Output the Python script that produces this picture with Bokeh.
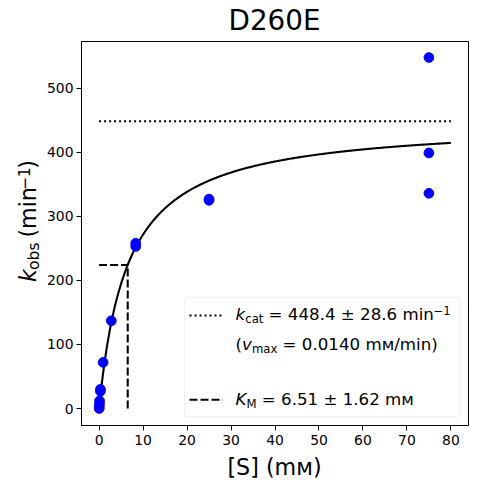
import numpy as np
from bokeh.plotting import figure
from bokeh.layouts import column, row
from bokeh.models import Range1d, FixedTicker, Label, BoxAnnotation, Arrow
from bokeh.embed import file_html
from bokeh.resources import INLINE

# ---------------- data ----------------
title_text = "D260E"
x_label_text = "[S] (m\u1d0d)"
substrate_mM = [75, 75, 75, 25, 25, 8.33, 8.33, 2.78, 0.926, 0.309, 0.309, 0.103, 0.103, 0.0343, 0.0343]
kobs = [548, 399, 336, 327, 325, 258, 253, 137, 72, 30, 27, 12, 8, 3, 0]
kcat = 448.4
kcat_err = 28.6
KM = 6.51
KM_err = 1.62
vmax = 0.0140
fit_x_max = 80
x_ticks = [0, 10, 20, 30, 40, 50, 60, 70, 80]
y_ticks = [0, 100, 200, 300, 400, 500]

# ---------------- layout (global px, top-left origin) ----------------
TOTAL_W = 469
XR = (-4, 84)
YR = (-26.5, 573)
FL, FR, FT, FB = 80, 468, 41, 425      # plot frame
YLAB_W = 43                             # left strip for the y label
XLAB_TOP = 451                          # top of the bottom strip for the x label
XLAB_H = 31
sx = (FR - FL) / (XR[1] - XR[0])
sy = (FB - FT) / (YR[1] - YR[0])
FONT = "DejaVu Sans"
MID = 0.346   # distance (em) from alphabetic baseline up to Bokeh's "middle" anchor


def px2x(px):
    return XR[0] + (px - FL) / sx


def py2y(py):
    return YR[0] + (FB - py) / sy


def text_strip(w, h):
    f = figure(width=w, height=h, x_range=Range1d(0, w), y_range=Range1d(h, 0),
               output_backend="svg", toolbar_location=None, title=None,
               x_axis_location=None, y_axis_location=None, min_border=0)
    f.grid.visible = False
    f.outline_line_color = None
    f.background_fill_color = "white"
    f.border_fill_color = "white"
    return f


def lab(fig, text, x, y, size, style="normal", align="left", angle=0.0):
    fig.add_layout(Label(x=x, y=y, text=text, text_font=FONT,
                         text_font_size=f"{size:.2f}px", text_font_style=style,
                         text_align=align, text_baseline="middle",
                         text_color="black", angle=angle))


# ---------------- main plot ----------------
main_w = TOTAL_W - YLAB_W
main_h = XLAB_TOP - FT
p = figure(width=main_w, height=main_h, x_range=Range1d(*XR), y_range=Range1d(*YR),
           output_backend="svg", toolbar_location=None, title=None,
           min_border_left=FL - YLAB_W, min_border_right=TOTAL_W - FR,
           min_border_top=0, min_border_bottom=XLAB_TOP - FB)
p.grid.visible = False
p.outline_line_color = "black"
p.outline_line_width = 1
p.background_fill_color = "white"
p.border_fill_color = "white"

p.xaxis.ticker = FixedTicker(ticks=x_ticks)
p.yaxis.ticker = FixedTicker(ticks=y_ticks)
for ax in (p.xaxis, p.yaxis):
    ax.minor_tick_line_color = None
    ax.major_tick_in = 0
    ax.major_tick_out = 5
    ax.major_tick_line_color = "black"
    ax.axis_line_color = "black"
    ax.major_label_text_color = "black"
    ax.major_label_text_font = FONT
    ax.major_label_text_font_size = "13.9px"
p.xaxis.major_label_standoff = 4
p.yaxis.major_label_standoff = 3

fx = np.linspace(0, fit_x_max, 400)
fy = kcat * fx / (KM + fx)
p.line(fx, fy, line_color="black", line_width=2.08)
p.line([0, fit_x_max], [kcat, kcat], line_color="black", line_width=2.08, line_dash="2 3")
p.line([0, KM], [kcat / 2, kcat / 2], line_color="black", line_width=2.08, line_dash="8 3")
p.line([KM, KM], [0, kcat / 2], line_color="black", line_width=2.08, line_dash="8 3")
p.scatter(substrate_mM, kobs, marker="circle", size=9.7, fill_color="blue", line_color="blue")

# legend (box, handles, composed texts)
p.add_layout(BoxAnnotation(left=px2x(183.3), right=px2x(460), top=py2y(296.7), bottom=py2y(416),
                           fill_color="white", fill_alpha=0.8, line_color="#cccccc", line_width=1,
                           border_radius=3, level="annotation"))
p.add_layout(Arrow(end=None, x_start=px2x(188.3), y_start=py2y(315), x_end=px2x(221.7), y_end=py2y(315),
                   line_color="black", line_width=2.08, line_dash="2 3"))
p.add_layout(Arrow(end=None, x_start=px2x(188.3), y_start=py2y(399.3), x_end=px2x(221.7), y_end=py2y(399.3),
                   line_color="black", line_width=2.08, line_dash="8 3"))


def plab(text, gx, gbase, size, style="normal"):
    # gbase: wanted alphabetic baseline (global px from top)
    lab(p, text, px2x(gx), py2y(gbase - MID * size), size, style)


LF = 16.67
lf = 0.7 * LF
SP = 0.318 * LF
x0 = 234.5
b1 = 320
x = x0
plab("k", x, b1, LF, "italic"); x += 0.579 * LF
plab("cat", x, b1 + 2.7, lf); x += 1.555 * lf + SP
plab(f"= {kcat:.1f} \u00b1 {kcat_err:.1f} min", x, b1, LF); x += (10.24 - 0.318) * LF
plab("\u22121", x, b1 - 5.5, lf)

b2 = 350
x = x0
plab("(", x, b2, LF); x += 0.390 * LF
plab("v", x, b2, LF, "italic"); x += 0.592 * LF
plab("max", x, b2 + 2.7, lf); x += 2.179 * lf + SP
plab(f"= {vmax:.4f} m\u1d0d/min)", x, b2, LF)

b4 = 405
x = x0
plab("K", x, b4, LF, "italic"); x += 0.656 * LF
plab("M", x, b4 + 2.7, lf); x += 0.863 * lf + SP
plab(f"= {KM:.2f} \u00b1 {KM_err:.2f} m\u1d0d", x, b4, LF)

# ---------------- title strip ----------------
t_fig = text_strip(TOTAL_W, FT)
TS = 27.8
lab(t_fig, title_text, (FL + FR) / 2, 30 - MID * TS, TS, align="center")

# ---------------- y label strip ----------------
y_fig = text_strip(YLAB_W, main_h)
F = 22.2
f = 0.7 * F
pieces = [("k", F, "italic", 0, 0.579 * F),
          ("obs", f, "normal", 3.5, 1.768 * f + 0.318 * F),
          ("(min", F, "normal", 0, (0.390 + 0.974 + 0.278 + 0.634) * F),
          ("\u22121", f, "normal", -6.5, 1.474 * f),
          (")", F, "normal", 0, 0.390 * F)]
total = sum(pc[4] for pc in pieces)
cur = (FT + FB) / 2 + total / 2
base_x = 35.5
for t, sz, st, sh, a in pieces:
    lab(y_fig, t, base_x + sh - MID * sz, cur - FT, sz, st, angle=np.pi / 2)
    cur -= a

# ---------------- x label strip ----------------
x_fig = text_strip(TOTAL_W, XLAB_H)
XS = 22.2
lab(x_fig, x_label_text, (FL + FR) / 2, 474 - XLAB_TOP - MID * XS, XS, align="center")

layout = column(t_fig, row(y_fig, p, spacing=0), x_fig, spacing=0)
open("out.html", "w").write(file_html(layout, INLINE))
